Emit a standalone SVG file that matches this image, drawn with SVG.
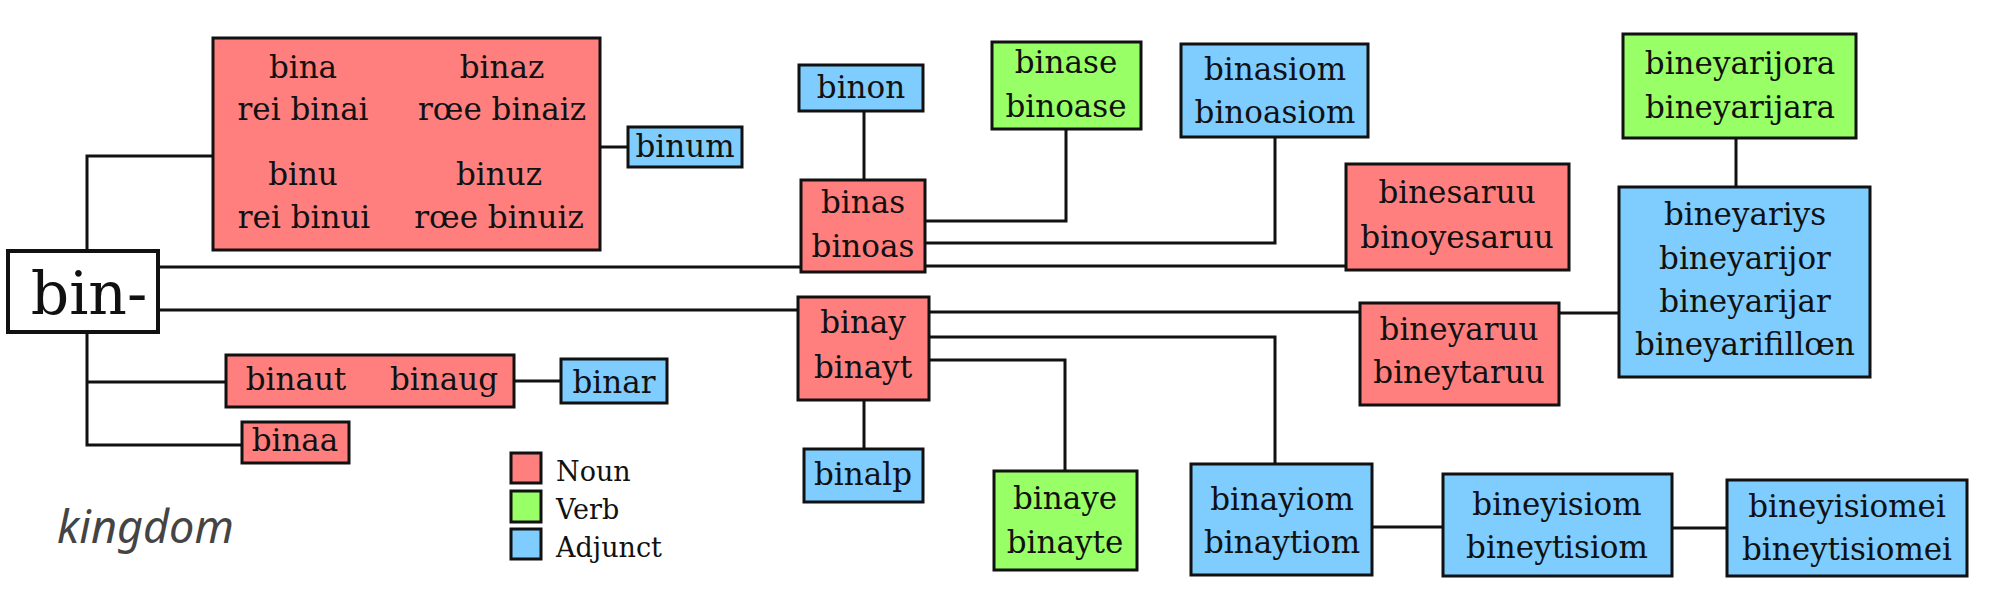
<svg xmlns="http://www.w3.org/2000/svg" width="2000" height="600" viewBox="0 0 2000 600">
<style>
rect.n{fill:#FF7F7F;stroke:#111;stroke-width:3}
rect.v{fill:#99FF66;stroke:#111;stroke-width:3}
rect.a{fill:#7FCCFF;stroke:#111;stroke-width:3}
rect.r{fill:#fff;stroke:#111;stroke-width:4}
text{font-family:"DejaVu Serif","Liberation Serif",serif;font-size:31px;fill:#111;text-anchor:middle}
text.lg{font-size:27px;text-anchor:start}
text.k{font-family:"Noto Sans","Open Sans",sans-serif;font-style:italic;font-size:45px;fill:#444;text-anchor:start}
#connectors path{fill:none;stroke:#111;stroke-width:3}
</style>
<rect width="2000" height="600" fill="#fff"/>
<g id="connectors">
<path d="M87 250V156H213"/>
<path d="M87 333V445H242"/>
<path d="M87 382H226"/>
<path d="M600 147H628"/>
<path d="M514 381H561"/>
<path d="M159 267H801"/>
<path d="M159 310H798"/>
<path d="M864 111V180"/>
<path d="M925 221H1066V129"/>
<path d="M925 243H1275V137"/>
<path d="M925 266H1346"/>
<path d="M929 312H1360"/>
<path d="M1559 313H1619"/>
<path d="M1736 138V187"/>
<path d="M929 337H1275V464"/>
<path d="M929 360H1065V471"/>
<path d="M864 400V449"/>
<path d="M1372 527H1443"/>
<path d="M1672 528H1727"/>
</g>
<g id="root"><rect class="r" x="8" y="251" width="150" height="81"/><text x="89" y="314" style="font-size:60px">bin-</text></g>
<g id="bina"><rect class="n" x="213" y="38" width="387" height="212"/>
<text x="303" y="78">bina</text><text x="303" y="120">rei binai</text><text x="303" y="185">binu</text><text x="304" y="228">rei binui</text>
<text x="502" y="78">binaz</text><text x="502" y="120">rœe binaiz</text><text x="499" y="185">binuz</text><text x="499" y="228">rœe binuiz</text></g>
<g id="binum"><rect class="a" x="628" y="127" width="114" height="40"/><text x="685" y="157">binum</text></g>
<g id="binaut"><rect class="n" x="226" y="355" width="288" height="52"/><text x="296" y="390">binaut</text><text x="444" y="390">binaug</text></g>
<g id="binar"><rect class="a" x="561" y="359" width="106" height="44"/><text x="614" y="393">binar</text></g>
<g id="binaa"><rect class="n" x="242" y="422" width="107" height="41"/><text x="295" y="451">binaa</text></g>
<g id="binon"><rect class="a" x="799" y="65" width="124" height="46"/><text x="861" y="98">binon</text></g>
<g id="binase"><rect class="v" x="992" y="42" width="149" height="87"/><text x="1066" y="73">binase</text><text x="1066" y="117">binoase</text></g>
<g id="binasiom"><rect class="a" x="1181" y="44" width="187" height="93"/><text x="1275" y="80">binasiom</text><text x="1275" y="123">binoasiom</text></g>
<g id="binas"><rect class="n" x="801" y="180" width="124" height="92"/><text x="863" y="213">binas</text><text x="863" y="257">binoas</text></g>
<g id="binay"><rect class="n" x="798" y="297" width="131" height="103"/><text x="863" y="333">binay</text><text x="863" y="378">binayt</text></g>
<g id="binalp"><rect class="a" x="804" y="449" width="119" height="53"/><text x="863" y="485">binalp</text></g>
<g id="binaye"><rect class="v" x="994" y="471" width="143" height="99"/><text x="1065" y="509">binaye</text><text x="1065" y="553">binayte</text></g>
<g id="binayiom"><rect class="a" x="1191" y="464" width="181" height="111"/><text x="1282" y="510">binayiom</text><text x="1282" y="553">binaytiom</text></g>
<g id="binesaruu"><rect class="n" x="1346" y="164" width="223" height="106"/><text x="1457" y="203">binesaruu</text><text x="1457" y="248">binoyesaruu</text></g>
<g id="bineyarijora"><rect class="v" x="1623" y="34" width="233" height="104"/><text x="1740" y="74">bineyarijora</text><text x="1740" y="118">bineyarijara</text></g>
<g id="bineyariys"><rect class="a" x="1619" y="187" width="251" height="190"/><text x="1745" y="225">bineyariys</text><text x="1745" y="269">bineyarijor</text><text x="1745" y="312">bineyarijar</text><text x="1745" y="355">bineyarifillœn</text></g>
<g id="bineyaruu"><rect class="n" x="1360" y="303" width="199" height="102"/><text x="1459" y="340">bineyaruu</text><text x="1459" y="383">bineytaruu</text></g>
<g id="bineyisiom"><rect class="a" x="1443" y="474" width="229" height="102"/><text x="1557" y="515">bineyisiom</text><text x="1557" y="558">bineytisiom</text></g>
<g id="bineyisiomei"><rect class="a" x="1727" y="480" width="240" height="96"/><text x="1847" y="517">bineyisiomei</text><text x="1847" y="560">bineytisiomei</text></g>
<g id="legend">
<rect class="n" x="511" y="453" width="30" height="30"/><text class="lg" x="556" y="481">Noun</text>
<rect class="v" x="511" y="491" width="30" height="31"/><text class="lg" x="556" y="519">Verb</text>
<rect class="a" x="511" y="529" width="30" height="30"/><text class="lg" x="556" y="557">Adjunct</text>
</g>
<text class="k" x="57" y="543">kingdom</text>
</svg>
